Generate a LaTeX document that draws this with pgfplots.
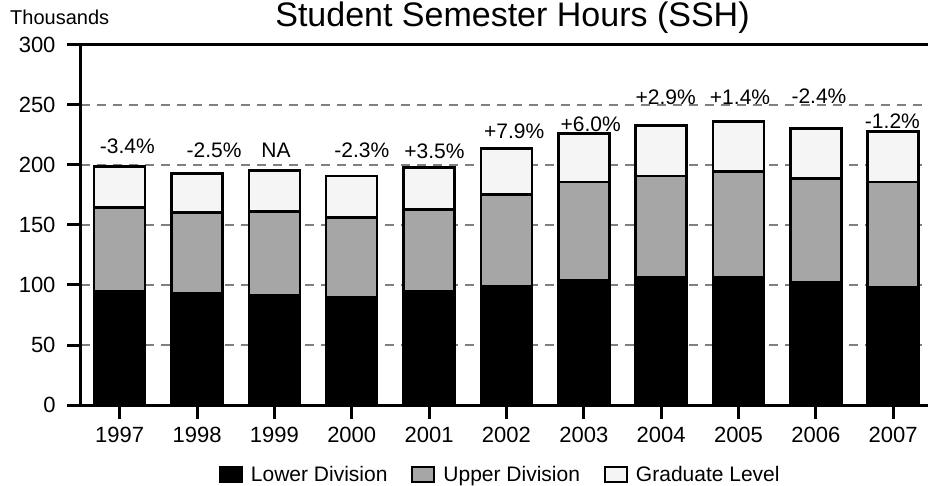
\documentclass[border=0pt]{standalone}
\usepackage{pgfplots}
\pgfplotsset{compat=1.18}
\usepackage{pgfplotstable}
\usepackage{fontspec}
\setmainfont{Liberation Sans}

\definecolor{upperc}{HTML}{A6A6A6}
\definecolor{gradc}{HTML}{F5F5F5}
\definecolor{gridc}{HTML}{808080}

\pgfplotstableread{
x lower upper grad
0 94.7 69.7 34.2
1 92.8 67.5 32.7
2 91.4 69.7 34.5
3 89.7 66.4 34.7
4 94.4 68.4 35.0
5 99.0 76.3 38.3
6 103.9 81.9 40.6
7 106.4 84.4 42.0
8 106.4 88.0 41.7
9 101.9 86.7 42.0
10 98.3 87.5 42.0
}\ssh

\pgfplotsset{
  legsq/.style={legend image code/.code={\draw[##1,line width=2bp] (0bp,-7.5bp) rectangle (22bp,7.5bp);}}
}

\begin{document}
\begin{tikzpicture}[font=\fontsize{21bp}{25bp}\selectfont]
\begin{axis}[
  scale only axis, width=847bp, height=360bp,
  at={(0,0)}, anchor=south west,
  xmin=-0.5, xmax=10.45, ymin=0, ymax=300,
  ybar stacked, bar width=51bp,
  axis x line=bottom, axis y line=left,
  axis line style={-, line width=3bp, black},
  xtick={0,...,10},
  xticklabels={1997,1998,1999,2000,2001,2002,2003,2004,2005,2006,2007},
  ytick={0,50,100,150,200,250},
  extra y ticks={300},
  extra y tick style={grid=major, major grid style={solid, black, line width=3bp}},
  ymajorgrids,
  major grid style={gridc, dash pattern=on 9bp off 7bp, line width=1.5bp},
  tick align=outside, major tick length=14bp,
  tick style={black, line width=3bp},
  /pgf/number format/assume math mode=true,
  ticklabel style={font=\fontsize{22bp}{26bp}\selectfont},
  yticklabel style={xshift=-8bp},
  xticklabel style={yshift=-5bp},
  legend style={at={(0.495,-0.194)}, anchor=center, draw=none, fill=none,
    legend columns=3, font=\fontsize{21bp}{25bp}\selectfont,
    /tikz/every odd column/.append style={column sep=6bp},
    /tikz/every even column/.append style={column sep=22bp}},
  clip=false,
]
\addplot[fill=black, draw=black, line width=2.5bp, legsq] table[x=x,y=lower]{\ssh};
\addlegendentry{Lower Division}
\addplot[fill=upperc, draw=black, line width=2.5bp, legsq] table[x=x,y=upper]{\ssh};
\addlegendentry{Upper Division}
\addplot[fill=gradc, draw=black, line width=2.5bp, legsq] table[x=x,y=grad]{\ssh};
\addlegendentry{Graduate Level}
\coordinate (bl) at (rel axis cs:0,0);
\coordinate (tl) at (rel axis cs:0,1);
\coordinate (tc) at (rel axis cs:0.5,1);
\end{axis}
\begin{axis}[
  scale only axis, width=847bp, height=360bp,
  at={(0,0)}, anchor=south west,
  xmin=-0.5, xmax=10.45, ymin=0, ymax=300,
  hide axis, clip=false,
]
\addplot[draw=none, mark=none, nodes near coords, point meta=explicit symbolic,
  nodes near coords style={anchor=base, inner sep=0pt, font=\fontsize{21bp}{25bp}\selectfont}]
coordinates {
(0.10,209.2) [-3.4\%]
(1.22,206.4) [-2.5\%]
(2.02,206.4) [NA]
(3.13,206.4) [-2.3\%]
(4.07,205.0) [+3.5\%]
(5.10,222.2) [+7.9\%]
(6.09,227.8) [+6.0\%]
(7.06,250.8) [+2.9\%]
(8.02,250.8) [+1.4\%]
(9.04,251.4) [-2.4\%]
(9.99,230.6) [-1.2\%]
};
\end{axis}
\node[anchor=base] at ([xshift=8bp,yshift=18bp]tc) {\fontsize{34bp}{40bp}\selectfont Student Semester Hours (SSH)};
\node[anchor=base west, inner sep=0pt] at ([xshift=-71bp,yshift=20bp]tl) {\fontsize{20bp}{24bp}\selectfont Thousands};
\pgfresetboundingbox
\path[use as bounding box] ([xshift=-81bp,yshift=-81bp]bl) rectangle ([xshift=847bp,yshift=405bp]bl);
\end{tikzpicture}
\end{document}
